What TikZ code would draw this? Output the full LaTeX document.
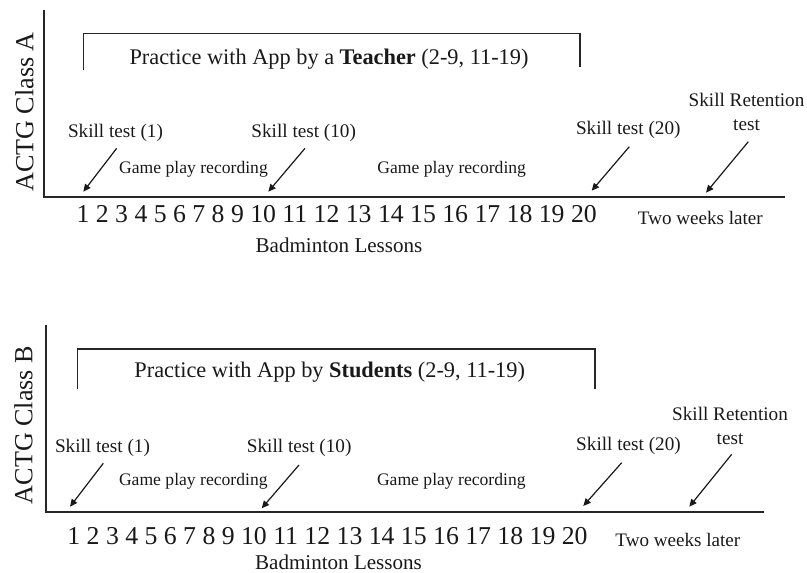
\documentclass[tikz,border=0pt]{standalone}
\usepackage{fontspec}
\setmainfont{Liberation Serif}
\usetikzlibrary{arrows.meta}

\tikzset{
  txt/.style={inner sep=0pt, outer sep=0pt, text=black!90, anchor=center},
  skillfont/.style={txt, font=\fontsize{14.4pt}{18pt}\selectfont},
  gamefont/.style={txt, font=\fontsize{13.2pt}{16pt}\selectfont},
  laterfont/.style={txt, font=\fontsize{14.3pt}{17pt}\selectfont},
  lessonfont/.style={txt, font=\fontsize{15.8pt}{19pt}\selectfont},
  practicefont/.style={txt, font=\fontsize{16.75pt}{20pt}\selectfont},
  numfont/.style={txt, font=\fontsize{19.3pt}{23pt}\selectfont},
  classfont/.style={txt, font=\fontsize{19.6pt}{23pt}\selectfont, rotate=90},
  axisline/.style={draw=black!85, line width=1.4pt},
  bracketline/.style={draw=black!85, line width=0.9pt},
  pointer/.style={draw=black!90, line width=0.9pt, -{Triangle[length=5.6pt,width=5pt]}}
}

\begin{document}
\begin{tikzpicture}[x=0.75pt, y=-0.75pt]
  \useasboundingbox (0,0) rectangle (807,573);

  % ---------- Class A ----------
  \node[classfont] (classA) at (24.5,112) {ACTG Class A};
  \coordinate (axA-top) at (44.3,10);
  \coordinate (axA-org) at (44.3,196.7);
  \coordinate (axA-end) at (785,196.7);
  \draw[axisline] (axA-top) -- (axA-org) -- (axA-end);

  \coordinate (brA-l) at (83.3,70);
  \coordinate (brA-r) at (580,67);
  \draw[bracketline] (brA-l) |- (580,33.3) -- (brA-r);
  \node[practicefont] (practA) at (329,59) {Practice with App by a \textbf{Teacher} (2-9, 11-19)};

  \node[skillfont] (skA1) at (115.5,132.5) {Skill test (1)};
  \node[skillfont] (skA10) at (303.7,132.5) {Skill test (10)};
  \node[skillfont] (skA20) at (628.3,130) {Skill test (20)};
  \node[skillfont, align=center] (retA) at (746.5,111.7) {Skill Retention\\test};

  \node[gamefont] (gameA1) at (193.5,169.5) {Game play recording};
  \node[gamefont] (gameA2) at (451.7,169.5) {Game play recording};

  \coordinate (arA1s) at (116.7,148.3);  \coordinate (arA1e) at (83.3,191.7);
  \coordinate (arA2s) at (305,148.3);    \coordinate (arA2e) at (268.3,191.7);
  \coordinate (arA3s) at (629.3,146.7);  \coordinate (arA3e) at (591.7,190.7);
  \coordinate (arA4s) at (748.3,141.7);  \coordinate (arA4e) at (706,192.7);
  \draw[pointer] (arA1s) -- (arA1e);
  \draw[pointer] (arA2s) -- (arA2e);
  \draw[pointer] (arA3s) -- (arA3e);
  \draw[pointer] (arA4s) -- (arA4e);

  \node[numfont] (numA) at (336.7,214) {1 2 3 4 5 6 7 8 9 10 11 12 13 14 15 16 17 18 19 20};
  \node[laterfont] (laterA) at (700.3,218) {Two weeks later};
  \node[lessonfont] (lessA) at (339,245.5) {Badminton Lessons};

  % ---------- Class B ----------
  \node[classfont] (classB) at (23.5,425) {ACTG Class B};
  \coordinate (axB-top) at (46,325);
  \coordinate (axB-org) at (46,511.7);
  \coordinate (axB-end) at (764,511.7);
  \draw[axisline] (axB-top) -- (axB-org) -- (axB-end);

  \coordinate (brB-l) at (77.3,389);
  \coordinate (brB-r) at (595,389);
  \draw[bracketline] (brB-l) |- (595,349) -- (brB-r);
  \node[practicefont] (practB) at (329.7,372) {Practice with App by \textbf{Students} (2-9, 11-19)};

  \node[skillfont] (skB1) at (102.5,448) {Skill test (1)};
  \node[skillfont] (skB10) at (299.2,448) {Skill test (10)};
  \node[skillfont] (skB20) at (628.5,446) {Skill test (20)};
  \node[skillfont, align=center] (retB) at (730,425.7) {Skill Retention\\test};

  \node[gamefont] (gameB1) at (193.3,481) {Game play recording};
  \node[gamefont] (gameB2) at (451.3,481) {Game play recording};

  \coordinate (arB1s) at (103.3,463.3);  \coordinate (arB1e) at (70,506.7);
  \coordinate (arB2s) at (299,465);      \coordinate (arB2e) at (261.7,508.3);
  \coordinate (arB3s) at (621.7,462.7);  \coordinate (arB3e) at (583.3,506);
  \coordinate (arB4s) at (731.7,454.3);  \coordinate (arB4e) at (689.3,506.7);
  \draw[pointer] (arB1s) -- (arB1e);
  \draw[pointer] (arB2s) -- (arB2e);
  \draw[pointer] (arB3s) -- (arB3e);
  \draw[pointer] (arB4s) -- (arB4e);

  \node[numfont] (numB) at (327.5,536.3) {1 2 3 4 5 6 7 8 9 10 11 12 13 14 15 16 17 18 19 20};
  \node[laterfont] (laterB) at (677.8,539.7) {Two weeks later};
  \node[lessonfont] (lessB) at (338.5,562.5) {Badminton Lessons};
\end{tikzpicture}
\end{document}
